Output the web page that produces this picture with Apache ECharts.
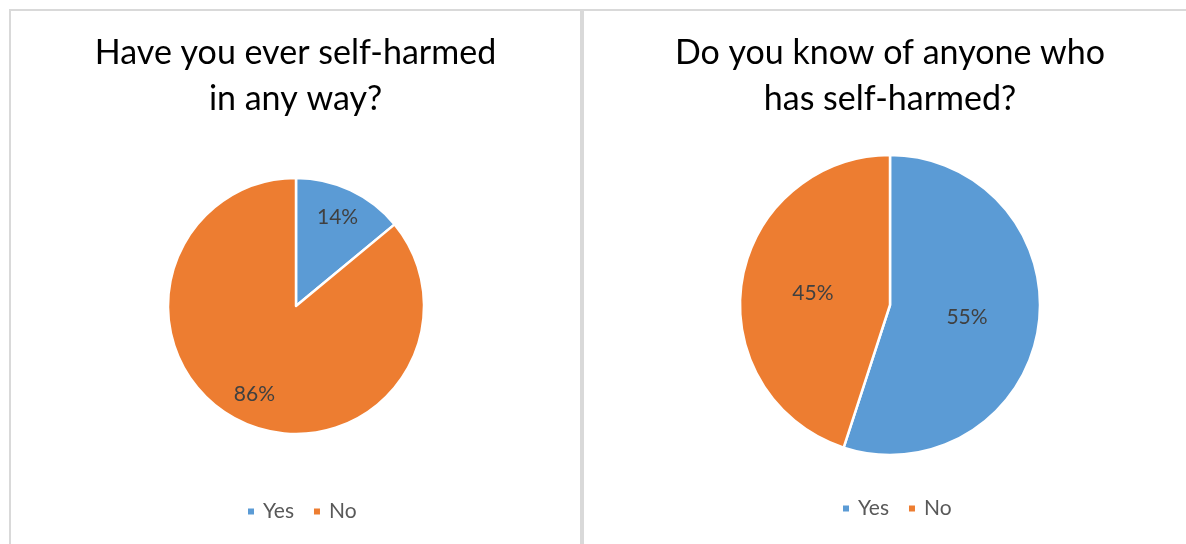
<!DOCTYPE html>
<html>
<head>
<meta charset="utf-8">
<script src="https://cdn.jsdelivr.net/npm/echarts@6/dist/echarts.min.js"></script>
<style>
  html, body { margin: 0; padding: 0; background: #fff; overflow: hidden; width: 1186px; height: 544px; }
  .panel { position: absolute; top: 9px; height: 560px; border: 2px solid #D9D9D9; box-sizing: border-box; }
  #left { left: 9px; width: 573px; }
  #right { left: 582px; width: 616px; }
</style>
</head>
<body>
<div id="left" class="panel"></div>
<div id="right" class="panel"></div>
<script>
// Survey answers, in percent
const categories = ['Yes', 'No'];
const selfHarmedValues = [14, 86];
const knowSomeoneValues = [55, 45];
const selfHarmedTitle = 'Have you ever self-harmed\nin any way?';
const knowSomeoneTitle = 'Do you know of anyone who\nhas self-harmed?';

const COLORS = ['#5B9BD5', '#ED7D31'];
const FONT = 'Lato, "Open Sans", sans-serif';

function toData(values) {
  return categories.map((name, i) => ({ name: name, value: values[i] }));
}

function buildOption(title, values, cfg) {
  const labelStyle = {
    show: true,
    position: 'inside',
    formatter: '{c}%',
    color: '#404040',
    fontSize: 21,
    fontFamily: FONT
  };
  const series = [{
    type: 'pie',
    center: cfg.center,
    radius: [0, cfg.radius],
    startAngle: 90,
    clockwise: true,
    silent: true,
    data: toData(values),
    itemStyle: { borderColor: '#fff', borderWidth: 2.5 },
    label: cfg.labelRing ? { show: false } : labelStyle,
    labelLine: { show: false },
    emphasis: { disabled: true }
  }];
  if (cfg.labelRing) {
    // transparent ring that places the labels further out along each slice
    series.push({
      type: 'pie',
      center: cfg.center,
      radius: [cfg.radius * cfg.labelRing, cfg.radius],
      startAngle: 90,
      clockwise: true,
      silent: true,
      data: toData(values),
      itemStyle: { color: 'rgba(0,0,0,0)', borderWidth: 0 },
      label: labelStyle,
      labelLine: { show: false },
      emphasis: { disabled: true }
    });
  }
  return {
    animation: false,
    color: COLORS,
    title: {
      text: title,
      left: 'center',
      top: 19,
      padding: 0,
      textStyle: {
        fontFamily: FONT,
        fontSize: 34,
        fontWeight: 'normal',
        color: '#000',
        lineHeight: 46
      }
    },
    legend: {
      data: categories,
      left: cfg.legendLeft,
      top: cfg.legendTop,
      padding: 0,
      icon: 'rect',
      itemWidth: 8,
      itemHeight: 8,
      itemGap: 18,
      selectedMode: false,
      textStyle: {
        fontFamily: FONT,
        fontSize: 21,
        color: '#595959',
        padding: [0, 0, 0, 3]
      }
    },
    series: series
  };
}

const leftChart = echarts.init(document.getElementById('left'), null, { renderer: 'canvas' });
leftChart.setOption(buildOption(selfHarmedTitle, selfHarmedValues, {
  center: [285, 295],
  radius: 128,
  labelRing: 0.48,
  legendLeft: 235,
  legendTop: 490
}));

const rightChart = echarts.init(document.getElementById('right'), null, { renderer: 'canvas' });
rightChart.setOption(buildOption(knowSomeoneTitle, knowSomeoneValues, {
  center: [306, 294],
  radius: 150,
  labelRing: 0,
  legendLeft: 257,
  legendTop: 487
}));
</script>
</body>
</html>
